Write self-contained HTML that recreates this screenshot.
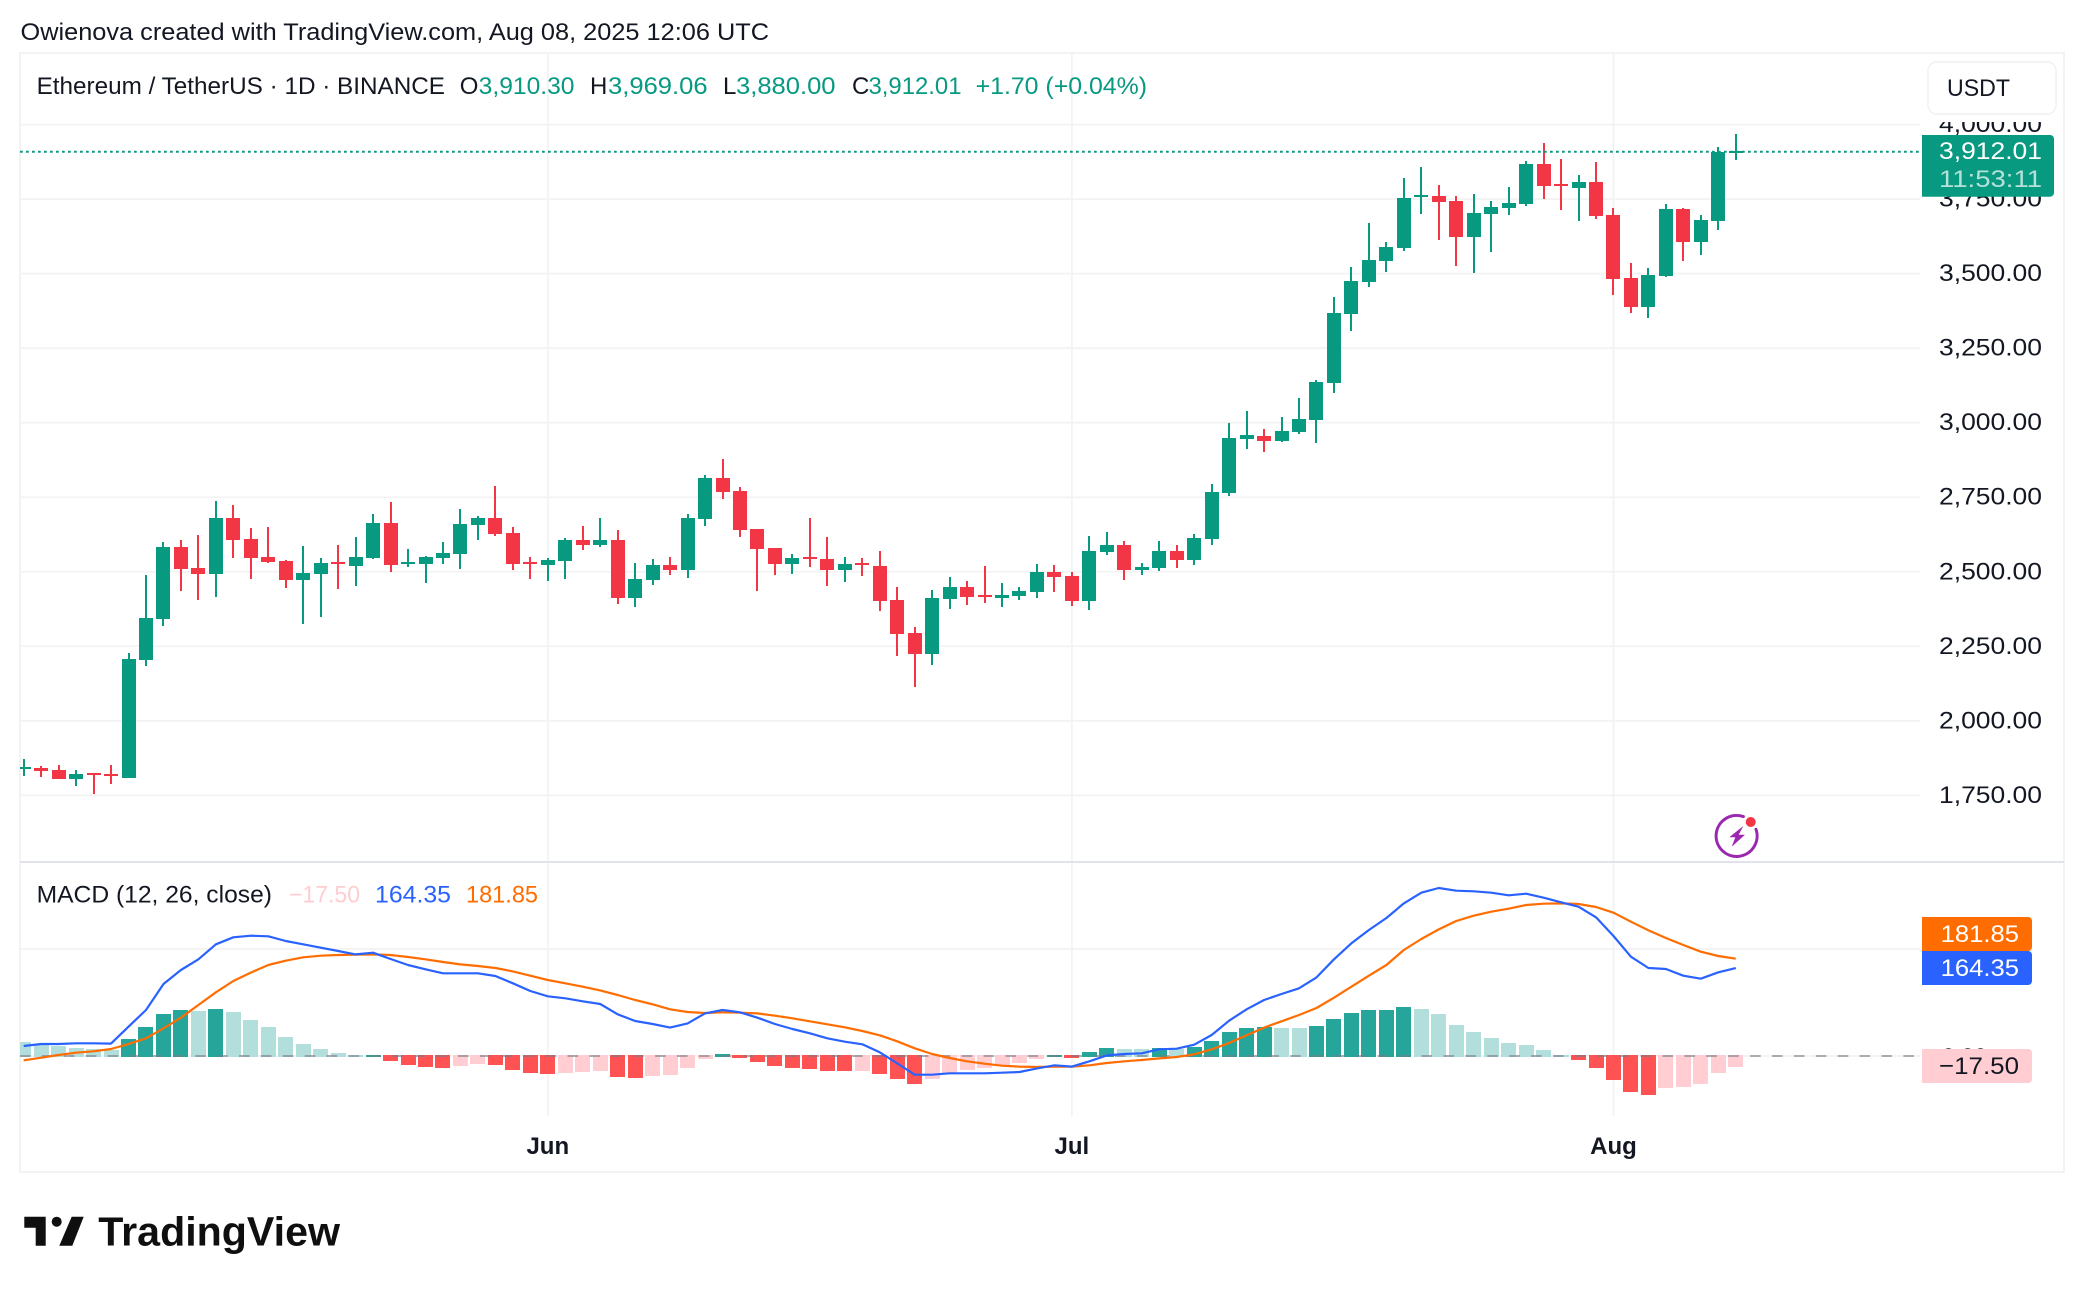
<!DOCTYPE html>
<html lang="en">
<head>
<meta charset="utf-8">
<title>Ethereum / TetherUS 1D chart</title>
<style>
  html, body { margin: 0; padding: 0; background: #ffffff; }
  svg { display: block; font-family: "Liberation Sans", sans-serif; }
  text { fill: #131722; }
</style>
</head>
<body>
<svg id="chart" xmlns="http://www.w3.org/2000/svg" width="2084" height="1292" viewBox="0 0 2084 1292">
  <defs>
    <clipPath id="pane-clip"><rect x="20" y="54" width="1900" height="1062"></rect></clipPath>
  </defs>
  <rect x="0" y="0" width="2084" height="1292" fill="#ffffff"></rect>
  <text x="20.5" y="40" font-size="24.5" textLength="748.5" lengthAdjust="spacingAndGlyphs">Owienova created with TradingView.com, Aug 08, 2025 12:06 UTC</text>
  <rect x="20" y="53" width="2044" height="1119" fill="none" stroke="#f3f3f3" stroke-width="2"></rect>
  <g id="grid"></g>
  <g id="histogram" clip-path="url(#pane-clip)"></g>
  <line x1="20" y1="1056" x2="1920" y2="1056" stroke="#787b86" stroke-opacity="0.6" stroke-width="2" stroke-dasharray="10.6 11.3"></line>
  <path id="signal-line" fill="none" stroke="#ff6d00" stroke-width="2.2" stroke-linejoin="round" clip-path="url(#pane-clip)"></path>
  <path id="macd-line" fill="none" stroke="#2962ff" stroke-width="2.2" stroke-linejoin="round" clip-path="url(#pane-clip)"></path>
  <g id="candles" clip-path="url(#pane-clip)"></g>
  <line id="last-price-line" x1="20" x2="1920" stroke="#089981" stroke-width="2" stroke-dasharray="2.7 3.3"></line>
  <rect x="20" y="861" width="2044" height="2" fill="#e0e3eb"></rect>
  <g id="price-ticks"></g>
  <rect x="1922" y="112" width="140" height="10" fill="#ffffff"></rect>
  <g id="time-ticks"></g>

  <g font-size="24">
    <text x="36.6" y="94" textLength="408.4" lengthAdjust="spacingAndGlyphs">Ethereum / TetherUS · 1D · BINANCE</text>
    <text x="459.8" y="94">O</text>
    <text x="478.7" y="94" style="fill:#089981" textLength="95.8" lengthAdjust="spacingAndGlyphs">3,910.30</text>
    <text x="590" y="94">H</text>
    <text x="608" y="94" style="fill:#089981" textLength="99.6" lengthAdjust="spacingAndGlyphs">3,969.06</text>
    <text x="723" y="94">L</text>
    <text x="736" y="94" style="fill:#089981" textLength="99.5" lengthAdjust="spacingAndGlyphs">3,880.00</text>
    <text x="852" y="94">C</text>
    <text x="868.5" y="94" style="fill:#089981" textLength="93" lengthAdjust="spacingAndGlyphs">3,912.01</text>
    <text x="975.6" y="94" style="fill:#089981" textLength="171.4" lengthAdjust="spacingAndGlyphs">+1.70 (+0.04%)</text>
  </g>

  <g font-size="24">
    <text x="36.6" y="902.7" textLength="235.4" lengthAdjust="spacingAndGlyphs">MACD (12, 26, close)</text>
    <text x="289" y="902.7" style="fill:#ffcdd2" textLength="71" lengthAdjust="spacingAndGlyphs">−17.50</text>
    <text x="375" y="902.7" style="fill:#2962ff" textLength="76" lengthAdjust="spacingAndGlyphs">164.35</text>
    <text x="466" y="902.7" style="fill:#ff6d00" textLength="72" lengthAdjust="spacingAndGlyphs">181.85</text>
  </g>

  <g>
    <rect x="1928" y="62" width="128" height="52" rx="9" fill="#ffffff" stroke="#f0f1f3" stroke-width="1.5"></rect>
    <text x="1947" y="96" font-size="24" textLength="63" lengthAdjust="spacingAndGlyphs">USDT</text>
  </g>

  <g>
    <path d="M1922 135H2050a4 4 0 0 1 4 4V192.7a4 4 0 0 1 -4 4H1922Z" fill="#089981"></path>
    <text x="1939" y="159" font-size="24.5" style="fill:#ffffff" textLength="103" lengthAdjust="spacingAndGlyphs">3,912.01</text>
    <text x="1939" y="187" font-size="24.5" style="fill:#ffffff;fill-opacity:0.7" textLength="103" lengthAdjust="spacingAndGlyphs">11:53:11</text>
  </g>

  <text x="1942" y="1065" font-size="24.5" textLength="45" lengthAdjust="spacingAndGlyphs">0.00</text>
  <g>
    <path d="M1922 917H2028a4 4 0 0 1 4 4V947a4 4 0 0 1 -4 4H1922Z" fill="#ff6d00"></path>
    <text x="1940.7" y="942" font-size="24.5" style="fill:#ffffff" textLength="78.3" lengthAdjust="spacingAndGlyphs">181.85</text>
  </g>
  <g>
    <path d="M1922 951H2028a4 4 0 0 1 4 4V981a4 4 0 0 1 -4 4H1922Z" fill="#2962ff"></path>
    <text x="1940.7" y="976" font-size="24.5" style="fill:#ffffff" textLength="78.3" lengthAdjust="spacingAndGlyphs">164.35</text>
  </g>
  <g>
    <path d="M1922 1049H2028a4 4 0 0 1 4 4V1079a4 4 0 0 1 -4 4H1922Z" fill="#ffcdd2"></path>
    <text x="1939" y="1074" font-size="24.5" style="fill:#131722" textLength="80" lengthAdjust="spacingAndGlyphs">−17.50</text>
  </g>

  <g>
    <path d="M1743.4 816.6A20.5 20.5 0 1 0 1756 829.3" fill="none" stroke="#9c27b0" stroke-width="3" stroke-linecap="round"></path>
    <polygon points="1743.3,826 1729.3,837.3 1735.3,837.3 1731.7,846.7 1745,834.7 1738.7,834.7" fill="#9c27b0"></polygon>
    <circle cx="1750.7" cy="822" r="5" fill="#f23645"></circle>
  </g>

  <g>
    <polygon points="24.3,1216.7 45.7,1216.7 45.7,1245.7 35.7,1245.7 35.7,1227.7 24.3,1227.7" fill="#0f0f0f"></polygon>
    <circle cx="56.7" cy="1221.7" r="5" fill="#0f0f0f"></circle>
    <polygon points="71.7,1216.7 83.7,1216.7 72.3,1245.7 59.3,1245.7" fill="#0f0f0f"></polygon>
    <text x="98.3" y="1245.7" font-size="40.5" font-weight="700" style="fill:#0f0f0f" textLength="241.7" lengthAdjust="spacingAndGlyphs">TradingView</text>
  </g>
</svg>

<script>
const opens = [1838,1842,1835,1805,1825,1821,1808,2204,2342,2583,
2513,2492,2680,2610,2550,2536,2472,2492,2533,2519,
2546,2664,2526,2526,2546,2560,2657,2680,2630,2533,
2523,2536,2607,2590,2607,2412,2472,2523,2506,2677,
2815,2771,2643,2580,2526,2550,2543,2506,2529,2519,
2405,2295,2224,2409,2449,2422,2412,2419,2432,2499,
2486,2402,2566,2590,2506,2513,2570,2539,2610,2764,
2945,2955,2939,2969,3009,3133,3365,3472,3542,3586,
3757,3760,3744,3623,3700,3720,3734,3868,3801,3787,
3807,3697,3485,3388,3492,3717,3606,3677,3910.30];

const highs = [1872,1848,1852,1835,1825,1852,2227,2489,2600,2607,
2623,2737,2724,2647,2650,2539,2586,2546,2590,2617,
2694,2734,2576,2553,2600,2711,2687,2788,2650,2550,
2546,2613,2654,2680,2640,2529,2543,2550,2694,2825,
2878,2784,2643,2580,2560,2680,2617,2550,2546,2570,
2449,2315,2439,2482,2469,2519,2462,2449,2526,2523,
2499,2620,2633,2603,2529,2603,2590,2627,2794,2999,
3039,2979,3019,3083,3143,3422,3522,3670,3606,3821,
3858,3797,3760,3767,3744,3791,3878,3938,3885,3831,
3875,3720,3536,3519,3734,3720,3697,3925,3969.06];

const lows = [1816,1812,1805,1781,1754,1788,1808,2184,2318,2435,
2405,2415,2546,2476,2529,2446,2325,2348,2442,2452,
2543,2499,2516,2462,2526,2509,2607,2620,2506,2476,
2469,2476,2573,2583,2392,2382,2456,2489,2479,2654,
2744,2617,2435,2489,2492,2516,2452,2466,2486,2368,
2217,2113,2187,2375,2389,2395,2382,2405,2412,2432,
2385,2372,2556,2472,2489,2503,2513,2523,2590,2754,
2912,2902,2935,2962,2932,3100,3308,3455,3506,3576,
3700,3613,3526,3502,3573,3697,3727,3750,3714,3677,
3683,3428,3368,3351,3489,3542,3563,3646,3880];

const closes = [1845,1832,1805,1821,1818,1815,2207,2345,2583,2509,
2492,2680,2607,2546,2533,2472,2496,2529,2526,2550,
2664,2523,2533,2550,2563,2660,2680,2627,2526,2526,
2539,2607,2590,2607,2412,2476,2523,2506,2680,2815,
2768,2640,2576,2526,2546,2543,2506,2526,2523,2402,
2291,2224,2412,2449,2415,2415,2422,2435,2499,2482,
2402,2570,2590,2506,2516,2570,2539,2613,2768,2949,
2959,2939,2972,3012,3137,3368,3475,3546,3589,3754,
3764,3740,3623,3703,3724,3737,3868,3794,3794,3807,
3693,3482,3388,3495,3717,3606,3680,3908,3912.01];

const histogramValues = [26.2,20.6,18.7,15,13.1,11.2,31.8,54.2,78.5,86,
84.1,87.8,82.2,67.3,54.2,35.5,22.4,13.1,5.6,1.9,
2.2,-9.3,-16.8,-20.6,-22.4,-18.7,-15,-16.8,-26.2,-31.8,
-33.6,-31.8,-29.9,-28,-39.2,-41.1,-37.4,-35.5,-22.4,-5.6,
3.7,-3.7,-11.2,-18.7,-22.4,-24.3,-28,-28.2,-28,-33.6,
-43,-52.3,-43,-31.8,-26.2,-22.4,-16.8,-13.1,-5.6,1.9,
-3.7,7.5,15,13.1,13,15,13.1,16.8,28,44.9,
52.3,54.2,52.3,52.2,56,69.2,80.4,86,86.2,91.6,
87.8,78.5,57.9,44.9,33.6,24.3,20.6,11.2,1.9,-7.5,
-22.4,-44.9,-67.3,-72.9,-59.8,-57.9,-52.3,-31.8,-20.6];

const macdValues = [18.7,22.4,22.4,23.7,23.7,23.1,54.8,86,134.6,160.7,
180.7,208.7,221.8,224.9,223.7,214.9,208.7,202.5,196.2,190,
193.1,181.3,170.1,162,154.5,154.5,154.5,149.5,135.8,121.5,
111.5,107.8,102.2,97.2,77.9,65.4,59.8,53,61,79.7,
86,81.6,71.6,59.8,50.5,42.4,33,26.8,21.8,6.9,
-13.7,-34.9,-34.9,-32.4,-32.4,-32.4,-31.2,-29.9,-23.1,-17.4,
-19.9,-10,1.2,3.7,5,12.5,13.7,21.2,39.2,66,
87.2,104.7,115.9,126.5,147,180.7,210.6,235.5,257.9,285.3,
305.3,314,309,307.8,305.3,300.3,303.4,295.9,287.2,279.1,
259.2,224.3,185.7,164.5,162.6,150.1,144.5,156.4,164.35];

const signalValues = [-8.1,-3.1,1.9,6.2,8.7,13.1,22.4,33,51.7,71.6,
95.3,119,140.2,155.8,170.1,178.2,184.4,187.5,188.8,189.4,
190,188.8,185,180.7,175.7,171.3,168.2,164.5,158.2,150.1,
142,135.8,129.6,122.7,114,104.7,96.6,87.2,82.2,80.4,
81.6,81,79.7,75.4,70.4,64.8,59.2,53.6,46.7,38.6,
27.4,14.3,3.7,-3.7,-10,-14.3,-18.1,-19.9,-20.6,-19.9,
-19.9,-17.4,-13.1,-10,-7.5,-4.4,-1.9,3.1,12.5,24.3,
38.6,53,64.8,76.6,89.7,109,129.6,150.1,170.1,198.1,
218.7,236.7,252.3,262.3,269.8,275.4,282.2,284.7,285.3,284.1,
278.5,267.9,251.1,234.9,220.5,207.5,195,186.9,181.85];

const priceTicks = [4000,3750,3500,3250,3000,2750,2500,2250,2000,1750];
const macdTicks = [200,0];
const timeTickLabels = ["Jun","Jul","Aug"];
const timeTickBars = [30,60,91];

const SVG_NS = "http://www.w3.org/2000/svg";
function xBar(i) { return 23.7 + 17.47 * i; }
function yPrice(p) { return 124.6 + (4000 - p) * 0.2981; }
function yMacd(v) { return 1056 - 0.535 * v; }
function make(tag) { return document.createElementNS(SVG_NS, tag); }
function setAll(el, attrs) { for (const k in attrs) el.setAttribute(k, attrs[k]); return el; }

const gridGroup = document.getElementById("grid");
const priceTickGroup = document.getElementById("price-ticks");
const timeTickGroup = document.getElementById("time-ticks");
const candleGroup = document.getElementById("candles");
const histGroup = document.getElementById("histogram");

priceTicks.forEach(function (p) {
  const line = setAll(make("line"), { x1: 20, x2: 1920, y1: yPrice(p), y2: yPrice(p), stroke: "#f3f3f3", "stroke-width": 1.8 });
  
  
  gridGroup.appendChild(line);

  const label = setAll(make("text"), { x: 1939, y: yPrice(p) + 7.5, "font-size": 24.5, textLength: 103, lengthAdjust: "spacingAndGlyphs" });
  label.textContent = p.toLocaleString("en-US", { minimumFractionDigits: 2, maximumFractionDigits: 2 });
  
  
  priceTickGroup.appendChild(label);
});

macdTicks.forEach(function (v) {
  const line = setAll(make("line"), { x1: 20, x2: 1920, y1: yMacd(v), y2: yMacd(v), stroke: "#f3f3f3", "stroke-width": 1.8 });
  
  
  gridGroup.appendChild(line);
});

timeTickBars.forEach(function (barIndex, k) {
  const line = setAll(make("line"), { x1: xBar(barIndex), x2: xBar(barIndex), y1: 54, y2: 1116, stroke: "#f3f3f3", "stroke-width": 1.8 });
  
  
  gridGroup.appendChild(line);

  const label = setAll(make("text"), { x: xBar(barIndex), y: 1154, "font-size": 24, "font-weight": 700, "text-anchor": "middle" });
  label.textContent = timeTickLabels[k];
  
  
  timeTickGroup.appendChild(label);
});

histogramValues.forEach(function (v, i) {
  const prev = i === 0 ? v : histogramValues[i - 1];
  let color;
  if (v >= 0) color = v > prev ? "#26a69a" : "#b2dfdb";
  else color = v < prev ? "#ff5252" : "#ffcdd2";
  const yv = Math.round(yMacd(v));
  const top = v >= 0 ? yv : 1055;
  const bottom = v >= 0 ? 1057 : yv;
  const bar = setAll(make("rect"), { x: Math.round(xBar(i) - 7.5), y: top, width: 15, height: Math.max(1, bottom - top), fill: color, "shape-rendering": "crispEdges" });
  
  
  histGroup.appendChild(bar);
});

function linePath(values) {
  return values.map(function (v, i) {
    return (i === 0 ? "M" : "L") + xBar(i).toFixed(1) + " " + yMacd(v).toFixed(1);
  }).join("");
}
document.getElementById("macd-line").setAttribute("d", linePath(macdValues));
document.getElementById("signal-line").setAttribute("d", linePath(signalValues));

opens.forEach(function (o, i) {
  const c = closes[i];
  const color = c >= o ? "#089981" : "#f23645";
  const cx = Math.round(xBar(i));
  const yh = Math.round(yPrice(highs[i]));
  const yl = Math.round(yPrice(lows[i]));
  const yTop = Math.round(yPrice(Math.max(o, c)));
  const yBottom = Math.round(yPrice(Math.min(o, c)));
  const group = make("g");
  
  
  const wick = setAll(make("rect"), { x: cx - 1, y: yh, width: 2, height: Math.max(1, yl - yh), fill: color, "shape-rendering": "crispEdges" });
  
  
  const body = setAll(make("rect"), { x: cx - 7, y: yTop, width: 14, height: Math.max(2, yBottom - yTop), fill: color, "shape-rendering": "crispEdges" });
  
  
  group.appendChild(wick);
  group.appendChild(body);
  candleGroup.appendChild(group);
});

const lastLine = document.getElementById("last-price-line");
const lastY = Math.round(yPrice(closes[closes.length - 1])) + 0.7;
lastLine.setAttribute("y1", lastY);
lastLine.setAttribute("y2", lastY);
</script>
</body>
</html>
